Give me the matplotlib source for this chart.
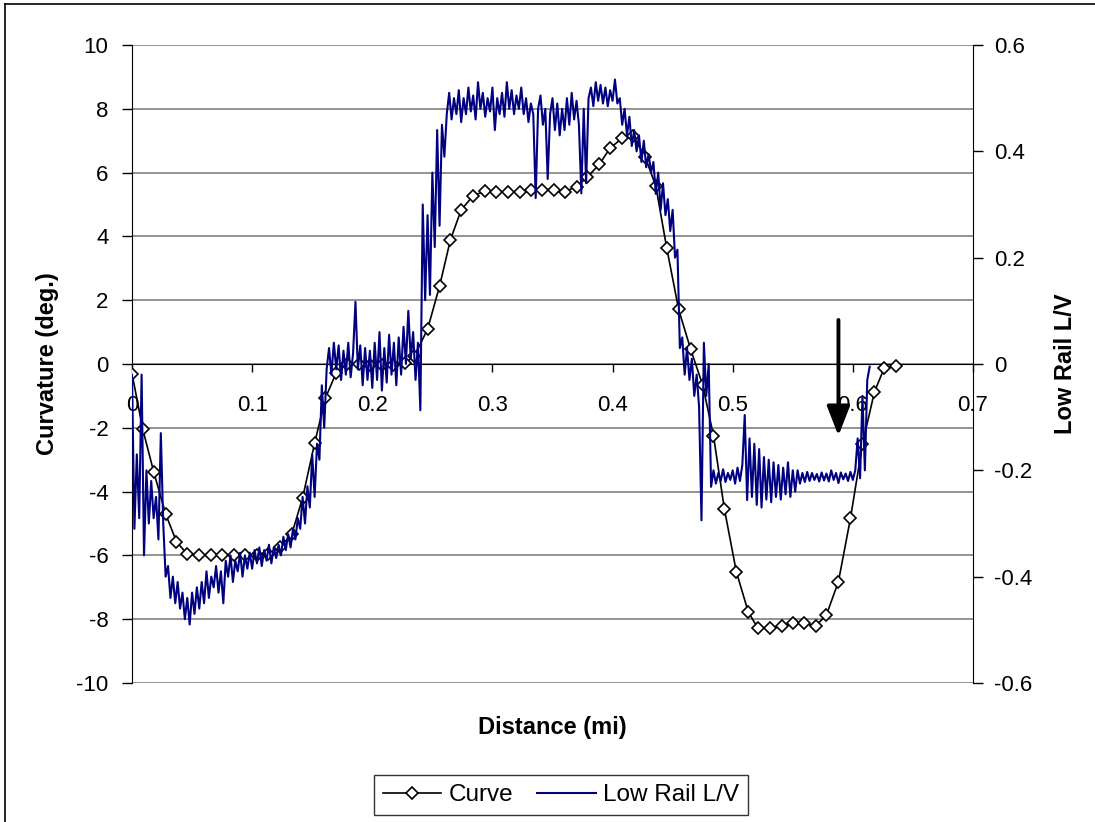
import numpy as np
import matplotlib.pyplot as plt
from matplotlib.lines import Line2D
from matplotlib.ticker import FormatStrFormatter, MultipleLocator

plt.rcParams['font.family'] = ['Liberation Sans', 'DejaVu Sans']

# curvature survey points (mi, deg.)
curve_dist = [0.000, 0.009, 0.018, 0.028, 0.037, 0.046, 0.056, 0.066, 0.075, 0.085,
              0.094, 0.104, 0.113, 0.123, 0.133, 0.142, 0.152, 0.161, 0.170, 0.179,
              0.189, 0.198, 0.208, 0.217, 0.227, 0.235, 0.246, 0.256, 0.265, 0.274,
              0.284, 0.294, 0.303, 0.313, 0.323, 0.332, 0.341, 0.351, 0.360, 0.370,
              0.379, 0.389, 0.398, 0.408, 0.417, 0.427, 0.436, 0.445, 0.455, 0.465,
              0.475, 0.484, 0.493, 0.503, 0.513, 0.521, 0.531, 0.541, 0.550, 0.559,
              0.569, 0.578, 0.588, 0.598, 0.608, 0.618, 0.626, 0.636]
curve_deg = [-0.30, -2.05, -3.37, -4.70, -5.57, -5.96, -6.00, -6.00, -6.00, -6.00,
             -6.00, -6.00, -5.97, -5.75, -5.33, -4.20, -2.48, -1.07, -0.27, 0.00,
             0.00, -0.03, -0.03, -0.03, 0.02, 0.25, 1.09, 2.44, 3.89, 4.83,
             5.28, 5.42, 5.40, 5.40, 5.40, 5.45, 5.47, 5.47, 5.40, 5.56,
             5.86, 6.26, 6.77, 7.08, 7.15, 6.50, 5.58, 3.65, 1.71, 0.46,
             -0.66, -2.25, -4.53, -6.51, -7.78, -8.28, -8.28, -8.21, -8.13, -8.13,
             -8.21, -7.87, -6.82, -4.84, -2.51, -0.87, -0.14, -0.06]

# low rail L/V, one reading every 0.002 mi from 0 to 0.614 mi
lv_step = 0.002
low_rail_lv = [
    -0.020, -0.310, -0.170, -0.290, -0.020, -0.360, -0.200, -0.300, -0.220, -0.290,
    -0.250, -0.330, -0.130, -0.300, -0.400, -0.380, -0.440, -0.400, -0.450, -0.410,
    -0.460, -0.430, -0.480, -0.440, -0.490, -0.430, -0.470, -0.420, -0.460, -0.410,
    -0.450, -0.390, -0.440, -0.400, -0.420, -0.380, -0.430, -0.390, -0.450, -0.370,
    -0.400, -0.360, -0.410, -0.370, -0.390, -0.355, -0.400, -0.360, -0.385, -0.355,
    -0.385, -0.350, -0.375, -0.345, -0.380, -0.350, -0.370, -0.340, -0.375, -0.345,
    -0.365, -0.340, -0.360, -0.325, -0.350, -0.320, -0.345, -0.310, -0.330, -0.290,
    -0.310, -0.250, -0.300, -0.230, -0.270, -0.170, -0.250, -0.150, -0.180, -0.040,
    -0.120, -0.010, 0.030, -0.020, 0.040, -0.010, 0.035, -0.030, 0.025, -0.020,
    0.040, -0.025, 0.020, 0.117, -0.010, 0.035, -0.040, 0.030, -0.030, 0.025,
    -0.045, 0.040, -0.030, 0.060, -0.050, 0.030, -0.035, 0.055, -0.020, 0.040,
    -0.040, 0.050, -0.020, 0.070, 0.000, 0.100, 0.010, 0.060, -0.030, 0.040,
    -0.087, 0.300, 0.120, 0.280, 0.130, 0.360, 0.220, 0.440, 0.260, 0.450,
    0.390, 0.470, 0.510, 0.460, 0.500, 0.470, 0.515, 0.455, 0.500, 0.470,
    0.520, 0.475, 0.505, 0.460, 0.530, 0.480, 0.510, 0.465, 0.500, 0.475,
    0.520, 0.440, 0.500, 0.470, 0.510, 0.465, 0.530, 0.480, 0.515, 0.470,
    0.505, 0.480, 0.520, 0.470, 0.500, 0.455, 0.490, 0.470, 0.312, 0.480,
    0.505, 0.450, 0.480, 0.348, 0.470, 0.500, 0.440, 0.490, 0.430, 0.480,
    0.440, 0.500, 0.450, 0.510, 0.460, 0.495, 0.450, 0.321, 0.480, 0.340,
    0.500, 0.520, 0.485, 0.530, 0.495, 0.525, 0.490, 0.520, 0.485, 0.515,
    0.495, 0.535, 0.490, 0.500, 0.450, 0.480, 0.430, 0.465, 0.410, 0.440,
    0.400, 0.430, 0.380, 0.420, 0.370, 0.395, 0.360, 0.380, 0.320, 0.360,
    0.290, 0.340, 0.280, 0.310, 0.250, 0.290, 0.200, 0.215, 0.030, 0.050,
    -0.020, 0.030, -0.030, 0.010, -0.060, -0.020, -0.080, -0.294, 0.040, -0.060,
    0.000, -0.231, -0.200, -0.225, -0.205, -0.220, -0.198, -0.222, -0.205, -0.218,
    -0.200, -0.225, -0.195, -0.220, -0.190, -0.096, -0.256, -0.140, -0.250, -0.150,
    -0.265, -0.160, -0.270, -0.175, -0.255, -0.180, -0.260, -0.185, -0.250, -0.190,
    -0.255, -0.195, -0.245, -0.185, -0.250, -0.200, -0.240, -0.200, -0.225, -0.205,
    -0.222, -0.203, -0.220, -0.205, -0.218, -0.207, -0.221, -0.204, -0.219, -0.206,
    -0.221, -0.200, -0.218, -0.205, -0.224, -0.204, -0.217, -0.206, -0.220, -0.203,
    -0.218, -0.200, -0.140, -0.215, -0.060, -0.200, -0.030, -0.005,
]
lv_dist = np.arange(len(low_rail_lv)) * lv_step

# location of the marked point along the route
marker_x, marker_top, marker_tip = 0.588, 1.38, -2.25

fig = plt.figure(figsize=(10.95, 8.22), dpi=100)
ax = fig.add_axes([132 / 1095, 1 - 683 / 822, 841 / 1095, 638 / 822])
ax2 = ax.twinx()

ax.plot(curve_dist, curve_deg, color='black', lw=1.2, marker='D', ms=6.2,
        mfc='white', mec='black', mew=1.2, label='Curve', zorder=3)
ax2.plot(lv_dist, low_rail_lv, color='#000080', lw=1.5, label='Low Rail L/V', zorder=2)

ax.set_xlim(0, 0.7)
ax.set_ylim(-10, 10)
ax2.set_ylim(-0.6, 0.6)
ax.xaxis.set_major_locator(MultipleLocator(0.1))
ax.yaxis.set_major_locator(MultipleLocator(2))
ax2.yaxis.set_major_locator(MultipleLocator(0.2))
ax.xaxis.set_major_formatter(FormatStrFormatter('%g'))
ax.yaxis.set_major_formatter(FormatStrFormatter('%g'))
ax2.yaxis.set_major_formatter(plt.FuncFormatter(lambda v, p: '%g' % round(v, 1)))

ax.yaxis.grid(True, color='#808080', lw=1.2)
ax.set_axisbelow(True)

ax.spines['bottom'].set_position(('data', 0))
ax.spines['top'].set_visible(False)
ax.spines['right'].set_visible(False)
for s in ('top', 'bottom', 'left'):
    ax2.spines[s].set_visible(False)
ax2.spines['right'].set_color('black')
ax2.patch.set_visible(False)

ax.tick_params(axis='y', direction='out', length=7, width=1, labelsize=16, pad=10)
ax.tick_params(axis='x', direction='out', length=6, width=1, labelsize=16, pad=16)
ax2.tick_params(axis='y', direction='out', length=7, width=1, labelsize=16, pad=8)

ax.set_ylabel('Curvature (deg.)', fontsize=17, fontweight='bold', labelpad=12)
ax2.set_ylabel('Low Rail L/V', fontsize=17, fontweight='bold', labelpad=16)
fig.text(552 / 1095, 1 - 727 / 822, 'Distance (mi)', fontsize=17, fontweight='bold',
         ha='center', va='center')

ax2.annotate('', xy=(marker_x, marker_tip * 0.06), xytext=(marker_x, marker_top * 0.06),
             arrowprops=dict(arrowstyle='-|>,head_length=1.8,head_width=0.7',
                             color='black', lw=2.8, shrinkA=0, shrinkB=0),
             zorder=5)

handles = ax.get_lines()[:1] + ax2.get_lines()[:1]
leg = fig.legend(handles, [h.get_label() for h in handles], loc='center',
                 bbox_to_anchor=(561 / 1095, 1 - 795 / 822), ncol=2, fontsize=17.5,
                 frameon=True, fancybox=False, edgecolor='black', handlelength=2.4,
                 handletextpad=0.3, columnspacing=1.0, borderpad=0.35)
leg.get_frame().set_linewidth(1.0)

# chart area outline
fig.add_artist(Line2D([5 / 1095, 5 / 1095], [0, 1 - 4 / 822], color='black', lw=1.2))
fig.add_artist(Line2D([5 / 1095, 1], [1 - 4 / 822, 1 - 4 / 822], color='black', lw=1.2))

fig.savefig('out.png', dpi=100)
